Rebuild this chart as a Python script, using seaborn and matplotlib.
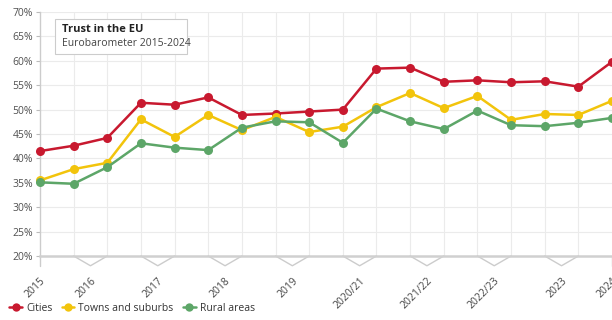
import matplotlib
matplotlib.use("Agg")
import matplotlib.pyplot as plt
import matplotlib.transforms as mtransforms
from matplotlib.patches import Rectangle
from matplotlib.lines import Line2D
import seaborn as sns
import pandas as pd
import numpy as np

# ---- data ----
cities = [41.5, 42.6, 44.2, 51.4, 51.0, 52.5, 48.9, 49.2, 49.6, 50.0,
          58.4, 58.6, 55.7, 56.0, 55.6, 55.8, 54.7, 59.8]
towns = [35.5, 37.8, 39.1, 48.0, 44.4, 48.9, 45.8, 48.5, 45.4, 46.5,
         50.5, 53.4, 50.3, 52.8, 47.9, 49.1, 48.9, 51.8]
rural = [35.1, 34.8, 38.2, 43.1, 42.2, 41.7, 46.3, 47.6, 47.4, 43.2,
         50.2, 47.6, 46.0, 49.8, 46.8, 46.6, 47.3, 48.3]
series_names = ["Cities", "Towns and suburbs", "Rural areas"]
colors = ["#c8192f", "#f2c40c", "#5da668"]
year_labels = ["2015", "2016", "2017", "2018", "2019", "2020/21",
               "2021/22", "2022/23", "2023", "2024"]
# which survey indices belong to each label (single or pair)
year_groups = [[0], [1, 2], [3, 4], [5, 6], [7, 8], [9, 10],
               [11, 12], [13, 14], [15, 16], [17]]

n = len(cities)
df = pd.DataFrame({
    "idx": list(range(n)) * 3,
    "value": cities + towns + rural,
    "area": [series_names[0]] * n + [series_names[1]] * n + [series_names[2]] * n,
})

sns.set_theme(style="white")
plt.rcParams["font.family"] = ["Open Sans", "DejaVu Sans"]

fig = plt.figure(figsize=(6.12, 3.2), dpi=100)
ax = fig.add_axes([40 / 612, 1 - 256 / 320, (612 - 40) / 612, (256 - 12) / 320])

pal = dict(zip(series_names, colors))
sns.lineplot(data=df, x="idx", y="value", hue="area", palette=pal,
             marker="o", markersize=6.5, markeredgewidth=0, linewidth=1.8,
             ax=ax, legend=False, zorder=3)
for l in ax.lines:
    l.set_clip_on(False)

ax.set_xlim(0, n - 1)
ax.set_ylim(20, 70)
ax.set_yticks(np.arange(20, 71, 5))
ax.set_yticklabels([f"{v}%" for v in range(20, 71, 5)], color="#505050", fontsize=7.5)
ax.tick_params(axis="y", length=3, width=0.8, color="#bbbbbb", pad=2, left=True)
ax.set_xlabel("")
ax.set_ylabel("")

# grid
ax.set_xticks(range(n), minor=True)
ax.grid(True, which="minor", axis="x", color="#ebebeb", linewidth=0.8)
ax.grid(True, which="major", axis="y", color="#ebebeb", linewidth=0.8)
ax.set_axisbelow(True)

for s in ["top", "right"]:
    ax.spines[s].set_visible(False)
ax.spines["left"].set_color("#cccccc")
ax.spines["left"].set_linewidth(1.0)
ax.spines["bottom"].set_color("#d0d0d0")
ax.spines["bottom"].set_linewidth(1.8)

# x labels with brackets
trans = mtransforms.blended_transform_factory(ax.transData, ax.transAxes)
pos = []
for g in year_groups:
    if len(g) == 1:
        p = g[0]
        ax.plot([p, p], [0, -0.04], transform=trans, color="#cccccc",
                lw=1.0, clip_on=False)
    else:
        p = (g[0] + g[-1]) / 2
        ax.plot([g[0], p, g[-1]], [0, -0.04, 0], transform=trans,
                color="#cccccc", lw=1.0, clip_on=False)
    pos.append(p)
ax.set_xticks(pos)
ax.set_xticklabels(year_labels, rotation=45, ha="right", va="top",
                   rotation_mode="anchor", color="#444444", fontsize=7.5)
ax.tick_params(axis="x", length=0, pad=14, which="both")

# title box
fig.add_artist(Rectangle((55 / 612, 1 - 54 / 320), 132 / 612, 35 / 320,
                         transform=fig.transFigure, facecolor="white",
                         edgecolor="#cccccc", linewidth=0.8, zorder=5))
fig.text(62 / 612, 1 - 29 / 320, "Trust in the EU", fontsize=8, fontweight="bold",
         color="#222222", va="center", ha="left", zorder=6)
fig.text(62 / 612, 1 - 43 / 320, "Eurobarometer 2015-2024", fontsize=7.5,
         color="#444444", va="center", ha="left", zorder=6)

# legend
handles = [Line2D([0], [0], color=c, marker="o", markersize=6, lw=1.8,
                  markeredgewidth=0) for c in colors]
fig.legend(handles, series_names, loc="lower left", bbox_to_anchor=(0.0, -0.01),
           ncol=3, frameon=False, fontsize=7.5, handlelength=1.2,
           handletextpad=0.4, columnspacing=0.9, labelcolor="#333333")

fig.savefig("out.png", dpi=100)
